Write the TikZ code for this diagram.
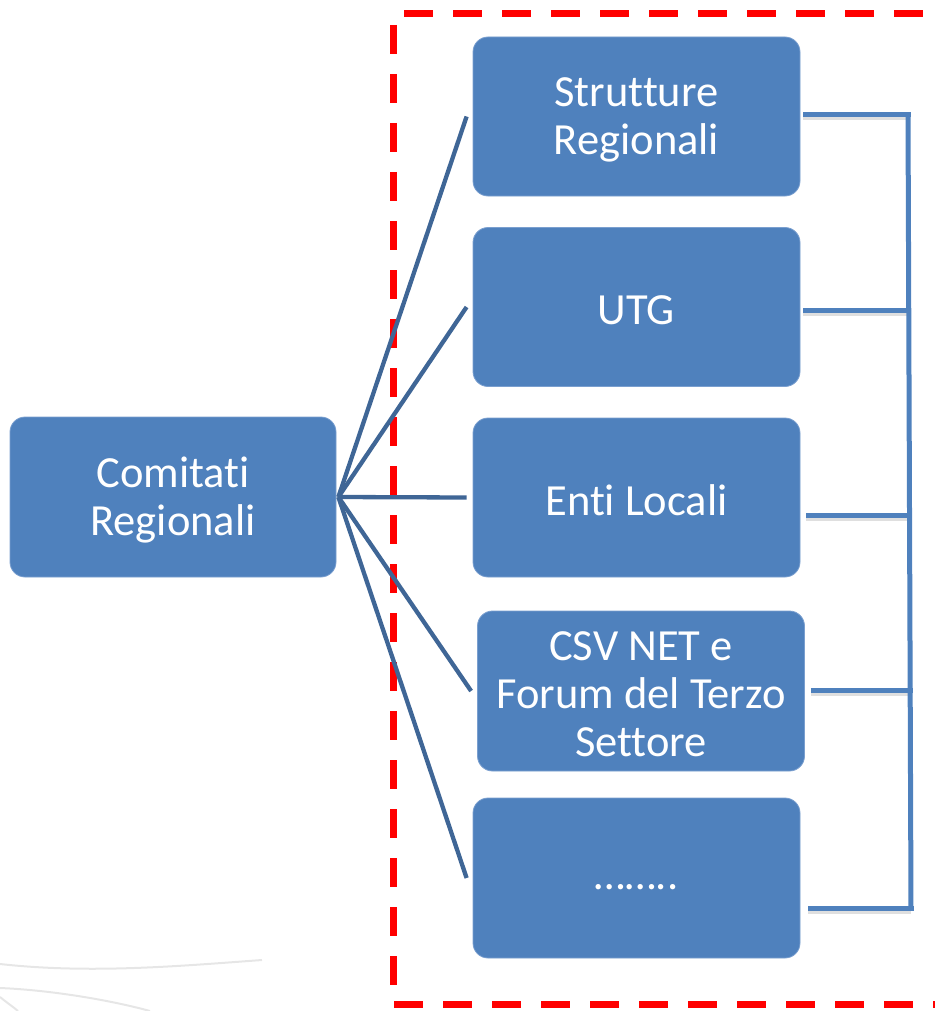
\documentclass[tikz,border=0pt]{standalone}
\usepackage{fontspec}
\setmainfont{Carlito}[Ligatures={NoCommon}]
\usetikzlibrary{calc}
\definecolor{boxblue}{HTML}{4F81BD}
\definecolor{fanblue}{HTML}{3F6696}
\definecolor{boxedge}{HTML}{7A9FCF}
\definecolor{faint}{HTML}{E6E6E6}
\tikzset{
  sabox/.style={fill=boxblue, draw=boxedge, line width=0.8pt, rounded corners=15pt,
    minimum width=327pt, minimum height=159pt, inner sep=0pt},
  satext/.style={text=white, align=center, inner sep=0pt, yshift=-3pt,
    font=\fontsize{44.5}{48}\selectfont},
  fanline/.style={draw=fanblue, line width=4.3pt},
  brline/.style={draw=boxblue, line width=5pt},
  brshadow/.style={draw=black!25, line width=5pt, opacity=0.5},
  redframe/.style={draw=red, line width=7pt, dash pattern=on 29pt off 20pt}
}
\begin{document}
\begin{tikzpicture}[x=1pt,y=-1pt]
\useasboundingbox (0,0) rectangle (934,1011);
% faint background swirl
\draw[faint, line width=2pt] (0,964) .. controls (90,974) and (180,966) .. (262,960);
\draw[faint, line width=2pt] (0,988) .. controls (50,990) and (110,1000) .. (150,1011);
\draw[faint, line width=2pt] (0,997) .. controls (6,1002) and (12,1006) .. (18,1011);
% red dashed frame
\coordinate (f1) at (393,1004);
\coordinate (f2) at (393,14);
\coordinate (f3) at (950,14);
\coordinate (f4) at (950,1004);
\coordinate (f5) at (404,14);
\draw[redframe, dash phase=38pt] (f2) -- (f1) -- (f4);
\draw[redframe] (f5) -- (f3);
% boxes
\node[sabox, minimum width=326pt, minimum height=160pt] (cr) at (173,497) {};
\node[sabox] (sr) at (636.5,116.5) {};
\node[sabox] (utg) at (636.5,307) {};
\node[sabox] (el) at (636.5,497.5) {};
\node[sabox, minimum height=160pt] (csv) at (641,691) {};
\node[sabox, minimum height=160pt] (dots) at (636.5,878) {};
% texts
\node[satext] (crt) at (cr) {Comitati\\Regionali};
\node[satext] (srt) at (sr) {Strutture\\Regionali};
\node[satext] (utgt) at (utg) {UTG};
\node[satext] (elt) at (el) {Enti Locali};
\node[satext] (csvt) at (csv) {CSV NET e\\Forum del Terzo\\Settore};
\node[satext, yshift=-6pt] (dotst) at (dots) {……..};
% fan connectors
\coordinate (hub) at ($(cr.east)+(2,0)$);
\draw[fanline] (hub) -- ([xshift=-6pt]sr.west);
\draw[fanline] (hub) -- ([xshift=-6pt]utg.west);
\draw[fanline] (hub) -- ([xshift=-6pt]el.west);
\draw[fanline] (hub) -- ([xshift=-6pt]csv.west);
\draw[fanline] (hub) -- ([xshift=-6pt]dots.west);
% bracket on the right
\coordinate (b1) at (908,115);
\coordinate (b2) at (908,310);
\coordinate (b3) at (909,515);
\coordinate (b4) at (910,690);
\coordinate (b5) at (911,908);
\foreach \n/\b/\dx/\sy in {sr/b1/3/-1.5, utg/b2/3/-6, el/b3/6/-20.5, csv/b4/6/-2, dots/b5/8/-33}{
  \draw[brshadow] ([xshift=\dx pt, yshift=\sy pt]\n.east) -- ([yshift=-3pt]\b);
}
\draw[brline] ([xshift=3pt,yshift=1.5pt]sr.east) -- ($(b1)+(3,0)$);
\draw[brline] ([xshift=3pt,yshift=-3pt]utg.east) -- ($(b2)+(3,0)$);
\draw[brline] ([xshift=6pt,yshift=-17.5pt]el.east) -- ($(b3)+(3,0)$);
\draw[brline] ([xshift=6pt,yshift=1pt]csv.east) -- ($(b4)+(3,0)$);
\draw[brline] ([xshift=8pt,yshift=-30pt]dots.east) -- ($(b5)+(3,0)$);
\draw[brline] ($(b1)+(0,-2.5)$) -- ($(b5)+(0,2.5)$);
\end{tikzpicture}
\end{document}
